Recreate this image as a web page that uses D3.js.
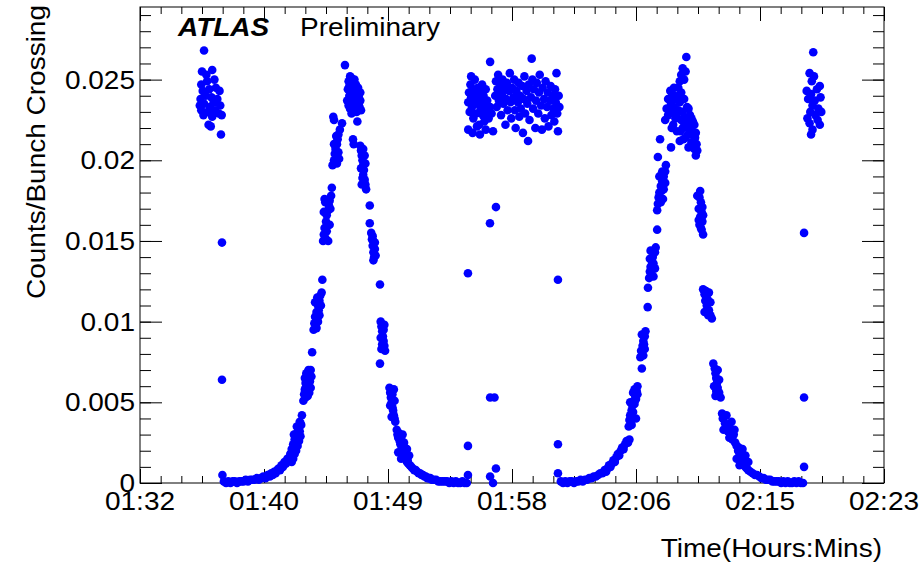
<!DOCTYPE html>
<html>
<head>
<meta charset="utf-8">
<script src="https://cdn.jsdelivr.net/npm/d3@7/dist/d3.min.js"></script>
<style>
    body { margin: 0; background: #fff; }
    text { font-family: "Liberation Sans", Arial, Helvetica, sans-serif; fill: #000; }
</style>
</head>
<body>
<div id="chart"></div>
<script>
// time is minutes after 01:32, value is counts per bunch crossing
const tickMinutes = [0, 8.5, 17, 25.5, 34, 42.5, 51];
const timeLabels = ["01:32", "01:40", "01:49", "01:58", "02:06", "02:15", "02:23"];
const yTicks = [0, 0.005, 0.01, 0.015, 0.02, 0.025];
const yLabels = ["0", "0.005", "0.01", "0.015", "0.02", "0.025"];

const fillStart = [
    [4.39,0.0268],[4.25,0.0255],[4.55,0.0253],[4.95,0.0256],[4.2,0.0247],[4.6,0.0249],[5.1,0.0250],
    [4.3,0.0243],[4.75,0.0244],[5.2,0.0245],[5.45,0.0243],[4.15,0.0238],[4.5,0.0240],[4.9,0.0239],
    [5.3,0.0238],[4.1,0.0234],[4.4,0.0235],[4.8,0.0233],[5.05,0.0236],[5.5,0.0234],[4.2,0.0231],
    [4.65,0.0230],[5.15,0.0231],[5.4,0.0229],[4.35,0.0228],[4.95,0.0227],[5.6,0.0228],[4.7,0.0222],
    [4.85,0.0221],[5.55,0.0216]
];

const scanOne = [
    [5.75,0.0001],[5.9,0.0000],[6.05,0.0001],[6.2,0.0000],[6.35,0.0001],[6.5,0.0001],[6.65,0.0000],
    [6.8,0.0001],[6.95,0.0001],[7.1,0.0001],[7.25,0.0002],[7.4,0.0001],[7.55,0.0002],[7.7,0.0002],
    [7.85,0.0002],[8.0,0.0003],[8.15,0.0002],[8.3,0.0003],[8.45,0.0004],[8.6,0.0003],[8.75,0.0005],
    [8.9,0.0004],[9.0,0.0006],[9.1,0.0005],[9.2,0.0007],[9.3,0.0006],[9.4,0.0008],[9.5,0.0009],
    [9.6,0.0008],[9.7,0.0011],[9.8,0.0010],[9.9,0.0013],[10.0,0.0012],[10.1,0.0015],[10.2,0.0014],
    [10.3,0.0018],[10.35,0.0016],[10.4,0.0021],[10.45,0.0019],[10.5,0.0024],[10.55,0.0022],[10.6,0.0027],
    [10.65,0.0025],[10.7,0.0029],[10.75,0.0031],[10.8,0.0028],[10.85,0.0033],[10.9,0.0035],[10.95,0.0032],
    [11.0,0.0037],[11.05,0.0036],[11.1,0.0042],
    [10.4,0.0013],[10.5,0.0015],[10.6,0.0018],[10.7,0.0020],[10.8,0.0023],[10.9,0.0026],[11.0,0.0029],
    [10.55,0.0030],[10.75,0.0035],[10.95,0.0038],
    [11.2,0.0051],[11.25,0.0055],[11.3,0.0058],[11.35,0.0053],[11.4,0.0061],[11.45,0.0057],[11.5,0.0064],
    [11.55,0.0060],[11.6,0.0067],[11.65,0.0063],[11.7,0.0070],[11.8,0.0081],
    [11.3,0.0065],[11.4,0.0068],[11.5,0.0054],[11.6,0.0056],[11.75,0.0066],[11.35,0.0062],[11.55,0.0070],
    [11.7,0.0059],
    [11.9,0.0095],[11.95,0.0099],[12.0,0.0103],[12.05,0.0098],[12.1,0.0106],[12.15,0.0102],[12.2,0.0110],
    [12.25,0.0107],[12.3,0.0113],[12.35,0.0116],[12.5,0.0126],
    [12.0,0.0112],[12.1,0.0096],[12.2,0.0100],[12.3,0.0104],[12.4,0.0110],[12.15,0.0115],[12.45,0.0118],
    [12.55,0.0150],[12.6,0.0154],[12.65,0.0158],[12.7,0.0152],[12.75,0.0162],[12.8,0.0166],[12.85,0.0160],
    [12.9,0.0169],[12.95,0.0172],[13.0,0.0175],[13.05,0.0170],[13.15,0.0183],
    [12.6,0.0168],[12.7,0.0174],[12.8,0.0156],[12.9,0.0150],[13.0,0.0160],[13.1,0.0178],[12.65,0.0176],
    [13.2,0.0197],[13.3,0.0200],[13.35,0.0204],[13.4,0.0207],[13.45,0.0202],[13.5,0.0210],[13.55,0.0213],
    [13.6,0.0216],[13.7,0.0219],[13.25,0.0227],[13.3,0.0225],[13.85,0.0223],
    [13.3,0.0210],[13.45,0.0215],[13.6,0.0205],[13.5,0.0198],[13.65,0.0201],
    [14.05,0.0259],[14.2,0.0237],[14.25,0.0244],[14.3,0.0249],[14.35,0.0240],[14.4,0.0252],[14.45,0.0246],
    [14.5,0.0238],[14.55,0.0243],[14.6,0.0248],[14.65,0.0235],[14.7,0.0241],[14.75,0.0245],[14.8,0.0233],
    [14.85,0.0239],[14.9,0.0242],[14.95,0.0236],[15.0,0.0240],[15.05,0.0233],[15.1,0.0237],[15.15,0.0231],
    [14.4,0.0232],[14.6,0.0230],[14.9,0.0224],
    [14.3,0.0234],[14.5,0.0251],[14.7,0.0250],[14.8,0.0247],[14.35,0.0246],[14.55,0.0235],[14.75,0.0237],
    [15.0,0.0235],[14.45,0.0241],[14.65,0.0243],[14.85,0.0230],[15.1,0.0242],[14.5,0.0229],[14.95,0.0245],
    [14.6,0.0213],[14.65,0.0210],[15.1,0.0209],[15.15,0.0206],[15.2,0.0203],[15.25,0.0200],[15.3,0.0197],
    [15.35,0.0194],[15.3,0.0191],[15.4,0.0188],[15.45,0.0185],[15.5,0.0182],[15.35,0.0186],
    [15.15,0.0195],[15.25,0.0189],[15.45,0.0198],[15.2,0.0185],[15.4,0.0203],[15.3,0.0207],
    [15.75,0.0172],[15.75,0.0161],[15.85,0.0155],[15.9,0.0151],[15.95,0.0147],[16.0,0.0143],[16.05,0.0140],
    [16.1,0.0145],[16.0,0.0138],[16.45,0.0123],
    [15.95,0.0153],[16.1,0.0149],[16.0,0.0150],[16.15,0.0141],
    [16.5,0.0100],[16.55,0.0097],[16.6,0.0094],[16.65,0.0091],[16.7,0.0088],[16.75,0.0085],[16.8,0.0082],
    [16.6,0.0086],[16.45,0.0074],
    [16.55,0.0083],[16.7,0.0095],[16.75,0.0098],[16.5,0.0090],
    [17.1,0.0059],[17.15,0.0056],[17.2,0.0053],[17.25,0.0050],[17.3,0.0047],[17.35,0.0045],[17.4,0.0042],
    [17.45,0.0040],[17.5,0.0038],
    [17.15,0.0048],[17.3,0.0055],[17.45,0.0051],[17.25,0.0041],[17.4,0.0058],
    [17.6,0.0033],[17.65,0.0030],[17.7,0.0028],[17.75,0.0031],[17.8,0.0026],[17.85,0.0024],[17.9,0.0027],
    [17.95,0.0022],[18.0,0.0020],[18.05,0.0023],[18.1,0.0018],[18.15,0.0016],[18.2,0.0019],[18.25,0.0015],
    [18.3,0.0013],[18.35,0.0014],[18.4,0.0012],[18.5,0.0011],
    [17.7,0.0019],[17.9,0.0015],[18.1,0.0025],[18.3,0.0021],[18.0,0.0030],[18.45,0.0017],
    [18.6,0.0010],[18.7,0.0009],[18.8,0.0008],[18.9,0.0008],[19.0,0.0007],[19.1,0.0006],[19.2,0.0006],
    [19.3,0.0005],[19.4,0.0005],[19.5,0.0004],[19.6,0.0004],[19.7,0.0003],[19.8,0.0003],[19.9,0.0003],
    [20.0,0.0002],[20.15,0.0002],[20.3,0.0002],[20.45,0.0001],[20.6,0.0001],[20.75,0.0001],[20.9,0.0001],
    [21.05,0.0001],[21.2,0.0000],[21.35,0.0001],[21.5,0.0000],[21.65,0.0001],[21.8,0.0000],[21.95,0.0000],
    [22.1,0.0001],[22.25,0.0000],[22.4,0.0000]
];

const fillMiddle = [
    [22.5,0.0236],[22.55,0.0242],[22.6,0.0230],[22.65,0.0247],[22.7,0.0239],[22.75,0.0233],[22.8,0.0244],
    [22.85,0.0226],[22.9,0.0237],[22.95,0.0250],[23.0,0.0241],[23.05,0.0229],[23.1,0.0235],[23.15,0.0245],
    [23.2,0.0238],[23.25,0.0222],[23.3,0.0243],[23.35,0.0232],[23.4,0.0236],[23.45,0.0247],[23.5,0.0228],
    [23.55,0.0240],[23.6,0.0224],[23.65,0.0234],[23.7,0.0244],[23.75,0.0230],[23.8,0.0237],[23.9,0.0226],
    [24.0,0.0233],[24.1,0.0229],[24.0,0.0261],[22.7,0.0252],
    [22.5,0.0219],[22.8,0.0217],[23.3,0.0216],[23.1,0.0221],[23.7,0.0219],[24.2,0.0218],
    [24.35,0.0240],[24.4,0.0249],[24.45,0.0233],[24.5,0.0244],[24.55,0.0253],[24.6,0.0237],[24.7,0.0246],
    [24.75,0.0228],[24.8,0.0241],[24.85,0.0250],[24.9,0.0235],[25.0,0.0244],[25.05,0.0222],[25.1,0.0238],
    [25.15,0.0248],[25.2,0.0231],[25.3,0.0243],[25.35,0.0254],[25.4,0.0236],[25.45,0.0226],[25.5,0.0245],
    [25.6,0.0239],[25.65,0.0250],[25.7,0.0231],[25.75,0.0220],[25.8,0.0243],[25.9,0.0236],[25.95,0.0248],
    [26.0,0.0227],[26.05,0.0240],[26.1,0.0232],[26.2,0.0246],[26.25,0.0217],[26.3,0.0238],[26.35,0.0252],
    [26.4,0.0229],[26.5,0.0243],[26.55,0.0235],[26.6,0.0212],[26.65,0.0247],[26.7,0.0225],[26.8,0.0239],
    [26.85,0.0263],[26.9,0.0250],[26.95,0.0232],[27.0,0.0244],[27.1,0.0220],[27.15,0.0237],[27.2,0.0248],
    [27.3,0.0229],[27.35,0.0242],[27.4,0.0253],[27.5,0.0234],[27.55,0.0219],[27.6,0.0245],[27.7,0.0238],
    [27.75,0.0226],[27.8,0.0249],[27.9,0.0233],[27.95,0.0242],[28.0,0.0221],[28.1,0.0237],[28.15,0.0246],
    [28.2,0.0228],[28.3,0.0240],[28.35,0.0232],[28.4,0.0224],[28.45,0.0244],[28.5,0.0236],[28.55,0.0254],
    [28.6,0.0229],[28.65,0.0218],[28.7,0.0240],[28.75,0.0233]
];

const scanTwo = [
    [28.85,0.0001],[29.0,0.0000],[29.15,0.0001],[29.3,0.0000],[29.45,0.0001],[29.6,0.0001],[29.75,0.0000],
    [29.9,0.0001],[30.05,0.0001],[30.2,0.0002],[30.35,0.0001],[30.5,0.0002],[30.65,0.0002],[30.8,0.0003],
    [30.95,0.0003],[31.1,0.0004],[31.25,0.0004],[31.4,0.0005],[31.55,0.0006],[31.7,0.0006],[31.85,0.0008],
    [31.95,0.0007],[32.05,0.0009],[32.15,0.0011],[32.25,0.0010],[32.35,0.0012],[32.45,0.0014],[32.55,0.0013],
    [32.65,0.0016],[32.75,0.0018],[32.85,0.0017],[32.95,0.0020],[33.05,0.0022],[33.15,0.0021],[33.25,0.0024],
    [33.35,0.0026],[33.45,0.0025],[33.55,0.0027],
    [33.5,0.0035],[33.55,0.0039],[33.6,0.0042],[33.65,0.0038],[33.7,0.0045],[33.75,0.0048],[33.8,0.0044],
    [33.85,0.0051],[33.9,0.0049],[33.95,0.0054],[34.0,0.0052],[34.05,0.0057],[34.1,0.0055],[34.1,0.0060],
    [33.6,0.0050],[33.8,0.0056],[33.7,0.0036],[34.0,0.0040],[33.9,0.0058],
    [34.4,0.0071],[34.3,0.0078],[34.35,0.0082],[34.45,0.0085],[34.5,0.0088],[34.55,0.0086],[34.6,0.0091],
    [34.65,0.0094],[34.8,0.0109],[34.82,0.0121],
    [34.4,0.0092],[34.5,0.0079],[34.6,0.0083],
    [34.9,0.0127],[34.95,0.0131],[35.0,0.0134],[35.05,0.0130],[35.1,0.0137],[35.15,0.0140],[35.2,0.0136],
    [35.3,0.0143],[35.35,0.0146],[35.45,0.0157],[35.45,0.0169],
    [35.0,0.0144],[35.2,0.0128],[35.3,0.0133],[34.95,0.0139],
    [35.5,0.0173],[35.55,0.0177],[35.6,0.0180],[35.7,0.0184],[35.75,0.0181],[35.8,0.0187],[35.9,0.0190],
    [36.0,0.0193],[35.85,0.0176],[36.05,0.0197],[35.5,0.0202],[35.65,0.0213],[36.4,0.0208],
    [35.6,0.0190],[35.7,0.0174],[35.9,0.0182],[36.0,0.0186],[35.8,0.0193],
    [36.0,0.0225],[36.1,0.0232],[36.2,0.0238],[36.3,0.0229],[36.4,0.0235],[36.5,0.0241],[36.55,0.0222],
    [36.6,0.0233],[36.7,0.0238],[36.8,0.0227],[36.9,0.0231],[37.0,0.0236],[37.05,0.0218],[37.1,0.0225],
    [37.2,0.0230],[37.25,0.0213],[37.3,0.0221],[37.4,0.0226],[37.5,0.0233],[37.55,0.0216],[37.6,0.0220],
    [37.7,0.0228],[37.8,0.0211],[37.85,0.0218],[37.9,0.0224],[38.0,0.0207],[38.05,0.0214],[38.1,0.0203],
    [38.15,0.0210],[37.0,0.0212],[36.8,0.0218],
    [36.2,0.0228],[36.35,0.0243],[36.5,0.0230],[36.7,0.0226],[36.9,0.0240],[37.1,0.0242],[37.3,0.0238],
    [37.5,0.0224],[37.6,0.0232],[37.7,0.0219],[37.8,0.0226],[37.95,0.0215],[38.0,0.0222],[38.1,0.0217],
    [37.2,0.0220],[37.4,0.0214],[36.6,0.0245],[36.45,0.0220],[37.6,0.0208],[38.2,0.0206],
    [37.0,0.0249],[37.1,0.0253],[37.2,0.0257],[37.3,0.0250],[37.4,0.0255],[36.9,0.0245],[37.45,0.0264],
    [38.4,0.0181],[38.35,0.0177],[38.45,0.0174],[38.3,0.0170],[38.5,0.0168],[38.4,0.0165],[38.55,0.0162],
    [38.35,0.0160],[38.5,0.0157],[38.6,0.0154],
    [38.2,0.0178],[38.3,0.0163],[38.45,0.0158],[38.55,0.0171],[38.6,0.0166],
    [38.6,0.0120],[38.7,0.0117],[38.75,0.0113],[38.85,0.0110],[38.9,0.0114],[39.0,0.0107],[39.1,0.0104],
    [39.2,0.0102],[39.0,0.0118],
    [38.7,0.0106],[38.8,0.0119],[39.1,0.0112],[38.95,0.0104],
    [39.3,0.0074],[39.4,0.0071],[39.45,0.0068],[39.5,0.0065],[39.55,0.0062],[39.6,0.0059],[39.7,0.0056],
    [39.8,0.0053],[39.5,0.0057],
    [39.35,0.0060],[39.6,0.0070],[39.7,0.0064],[39.45,0.0054],
    [39.9,0.0043],[39.95,0.0040],[40.05,0.0041],[40.1,0.0037],[40.2,0.0034],[40.3,0.0032],[40.4,0.0035],
    [40.5,0.0029],[40.6,0.0027],[40.7,0.0030],[40.8,0.0025],
    [40.0,0.0033],[40.2,0.0042],[40.4,0.0028],[40.55,0.0038],[40.75,0.0033],
    [40.9,0.0023],[41.0,0.0020],[41.05,0.0022],[41.1,0.0018],[41.2,0.0016],[41.25,0.0019],[41.3,0.0014],
    [41.4,0.0012],[41.45,0.0013],[41.5,0.0010],[41.6,0.0009],
    [40.9,0.0015],[41.1,0.0011],[41.3,0.0021],[41.5,0.0017],[41.7,0.0013],
    [41.7,0.0008],[41.85,0.0007],[42.0,0.0006],[42.15,0.0005],[42.3,0.0005],[42.45,0.0004],[42.6,0.0003],
    [42.75,0.0003],[42.9,0.0002],[43.05,0.0002],[43.2,0.0002],[43.35,0.0001],[43.5,0.0001],[43.65,0.0001],
    [43.8,0.0001],[43.95,0.0000],[44.1,0.0001],[44.25,0.0000],[44.4,0.0001],[44.55,0.0000],[44.7,0.0000],
    [44.85,0.0001],[45.0,0.0000],[45.15,0.0001],[45.3,0.0000],[45.45,0.0000]
];

const fillEnd = [
    [46.15,0.0267],[45.9,0.0254],[46.2,0.0252],[46.05,0.0249],[46.6,0.0246],[45.7,0.0243],[46.0,0.0241],
    [46.4,0.0244],[45.8,0.0238],[46.25,0.0237],[46.65,0.0239],[46.1,0.0234],[46.5,0.0232],[45.95,0.0230],
    [46.3,0.0228],[46.7,0.0230],[45.75,0.0226],[46.45,0.0225],[46.6,0.0222],[45.9,0.0223],[46.1,0.0219],
    [46.0,0.0216]
];

// isolated readings between the scan steps
const strays = [
    [5.62,0.0149],[5.62,0.0064],[5.65,0.0005],
    [22.48,0.0130],[22.48,0.0023],[22.48,0.0005],
    [23.99,0.0161],[24.4,0.0171],[24.0,0.0053],[24.3,0.0053],[24.4,0.0009],[24.0,0.0004],[24.2,0.0000],
    [28.65,0.0126],[28.65,0.0024],[28.65,0.0006],
    [45.52,0.0155],[45.52,0.0053],[45.52,0.0010]
];

const width = 922, height = 568;
const margin = {top: 7, right: 38, bottom: 85, left: 140};
const plotW = width - margin.left - margin.right;
const plotH = height - margin.top - margin.bottom;
const stretch = 1.12;

const svg = d3.select("#chart").append("svg")
    .attr("width", width)
    .attr("height", height);

const g = svg.append("g")
    .attr("transform", `translate(${margin.left},${margin.top})`);

const x = d3.scaleLinear().domain([0, 51]).range([0, plotW]);
const y = d3.scaleLinear().domain([0, 0.0295]).range([plotH, 0]);

const xMinor = d3.range(0, 51.001, 8.5 / 6);
const yMinor = d3.range(0, 0.0295, 0.001);

function tickAxis(axis, values, size) {
    return axis.tickValues(values).tickSize(size).tickSizeOuter(0).tickFormat("");
}

function drawAxis(axis, transform) {
    const a = g.append("g").attr("transform", transform).call(axis);
    a.select(".domain").remove();
    a.selectAll("line").attr("stroke", "#000").attr("stroke-width", 1);
}

// ROOT style ticks on all four sides, pointing inward
drawAxis(tickAxis(d3.axisBottom(x), tickMinutes, -14), `translate(0,${plotH})`);
drawAxis(tickAxis(d3.axisBottom(x), xMinor, -7), `translate(0,${plotH})`);
drawAxis(tickAxis(d3.axisTop(x), tickMinutes, -14), "translate(0,0)");
drawAxis(tickAxis(d3.axisTop(x), xMinor, -7), "translate(0,0)");
drawAxis(tickAxis(d3.axisLeft(y), yTicks, -22), "translate(0,0)");
drawAxis(tickAxis(d3.axisLeft(y), yMinor, -11), "translate(0,0)");
drawAxis(tickAxis(d3.axisRight(y), yTicks, -22), `translate(${plotW},0)`);
drawAxis(tickAxis(d3.axisRight(y), yMinor, -11), `translate(${plotW},0)`);

g.append("rect")
    .attr("width", plotW)
    .attr("height", plotH)
    .attr("fill", "none")
    .attr("stroke", "#000")
    .attr("stroke-width", 1);

const allPoints = [].concat(fillStart, scanOne, fillMiddle, scanTwo, fillEnd, strays);

g.append("g")
    .selectAll("circle")
    .data(allPoints)
    .join("circle")
    .attr("cx", d => x(d[0]))
    .attr("cy", d => y(d[1]))
    .attr("r", 4.3)
    .attr("fill", "#0000ff");

// tick labels
g.selectAll(".xlabel")
    .data(tickMinutes)
    .join("text")
    .attr("class", "xlabel")
    .attr("text-anchor", "middle")
    .attr("font-size", 25)
    .attr("transform", d => `translate(${x(d)},${plotH + 27}) scale(${stretch},1)`)
    .text((d, i) => timeLabels[i]);

g.selectAll(".ylabel")
    .data(yTicks)
    .join("text")
    .attr("class", "ylabel")
    .attr("text-anchor", "end")
    .attr("font-size", 25)
    .attr("transform", d => `translate(-5,${y(d) + 9}) scale(${stretch},1)`)
    .text((d, i) => yLabels[i]);

svg.append("text")
    .attr("text-anchor", "end")
    .attr("font-size", 25)
    .attr("transform", `translate(${margin.left + plotW - 2},${height - 11}) scale(${stretch},1)`)
    .text("Time(Hours:Mins)");

svg.append("text")
    .attr("text-anchor", "end")
    .attr("font-size", 25)
    .attr("transform", `translate(45,5) rotate(-90) scale(${stretch},1)`)
    .text("Counts/Bunch Crossing");

svg.append("text")
    .attr("font-size", 25)
    .attr("font-weight", "bold")
    .attr("font-style", "italic")
    .attr("transform", `translate(178,36) scale(${stretch},1)`)
    .text("ATLAS");

svg.append("text")
    .attr("font-size", 25)
    .attr("transform", `translate(300,36) scale(${stretch},1)`)
    .text("Preliminary");
</script>
</body>
</html>
